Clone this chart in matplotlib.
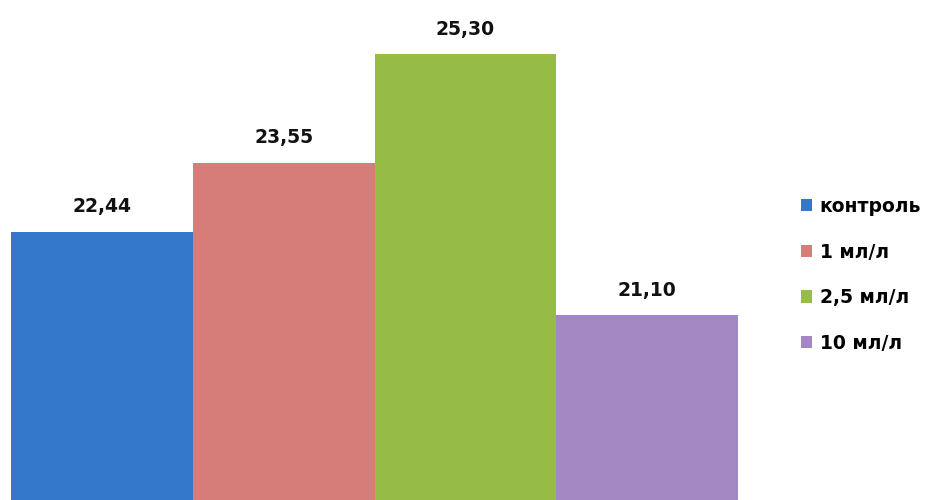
import matplotlib
matplotlib.use("Agg")
import matplotlib.pyplot as plt

categories = ["контроль", "1 мл/л", "2,5 мл/л", "10 мл/л"]
values = [22.44, 23.55, 25.30, 21.10]
labels = ["22,44", "23,55", "25,30", "21,10"]
colors = ["#3478CC", "#D67D7A", "#97BC45", "#A387C3"]

plt.rcParams['font.family'] = ['DejaVu Sans']

fig = plt.figure(figsize=(9.32, 5.0), dpi=100)
ax = fig.add_axes([0, 0, 1, 1])

x = list(range(len(values)))
bars = ax.bar(x, values, width=1.0, color=colors, label=categories, linewidth=0)

for xi, v, lab in zip(x, values, labels):
    ax.annotate(lab, (xi, v), xytext=(0, 11), textcoords="offset points",
                ha="center", va="bottom", fontsize=13.5, fontweight="bold", color="#111111")

ax.set_ylim(18.12, 26.17)
ax.set_xlim(-0.5605, 4.567)
ax.axis("off")

leg = ax.legend(handles=list(bars), labels=categories, loc="upper left",
                bbox_to_anchor=(0.841, 0.640), bbox_transform=fig.transFigure,
                frameon=False, handlelength=0.62, handleheight=0.62,
                handletextpad=0.4, labelspacing=1.42,
                prop={"weight": "bold", "size": 13.5})

fig.savefig("out.png", dpi=100)
